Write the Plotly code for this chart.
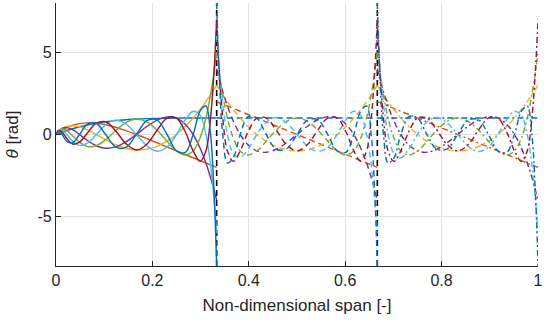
import plotly.graph_objects as go

# local node positions within each span segment (-1 = inboard end, 1 = outboard end)
xi = [-1, -0.99144, -0.96593, -0.92388, -0.86603, -0.79335, -0.70711, -0.60876, -0.5,
      -0.38268, -0.25882, -0.13053, 0, 0.13053, 0.25882, 0.38268, 0.5, 0.60876,
      0.70711, 0.79335, 0.86603, 0.92388, 0.96593, 0.99144, 1]

# segment boundaries (non-dimensional span)
interfaces = [0, 1 / 3, 2 / 3, 1]
y_range = [-8, 8]

# root segment (solid lines)
root_m0 = [0, 0.017, 0.066, 0.144, 0.242, 0.354, 0.469, 0.581, 0.684, 0.772, 0.843, 0.898, 0.938,
           0.964, 0.981, 0.991, 0.996, 0.999, 1, 1, 1, 1, 1, 1, 1]
root_m1 = [0, 0.034, 0.128, 0.266, 0.419, 0.561, 0.663, 0.708, 0.684, 0.590, 0.437, 0.234, 0,
           -0.252, -0.508, -0.758, -0.996, -1.216, -1.413, -1.587, -1.732, -1.848, -1.932, -1.983, -2]
root_m2 = [0, 0.050, 0.180, 0.348, 0.484, 0.537, 0.469, 0.280, 0, -0.320, -0.617, -0.837, -0.938,
           -0.898, -0.718, -0.410, 0, 0.481, 1.0, 1.518, 2.0, 2.414, 2.732, 2.932, 3]
root_m3 = [0, 0.065, 0.221, 0.376, 0.419, 0.291, 0, -0.366, -0.684, -0.835, -0.756, -0.453, 0,
           0.486, 0.880, 1.072, 0.996, 0.629, 0, -0.821, -1.732, -2.613, -3.346, -3.831, -4]
root_m4 = [0, 0.079, 0.246, 0.348, 0.242, -0.076, -0.469, -0.726, -0.684, -0.320, 0.226, 0.718, 0.938,
           0.771, 0.263, -0.410, -0.996, -1.248, -1.0, -0.214, 1.0, 2.414, 3.732, 4.664, 5]
root_m5 = [0, 0.092, 0.255, 0.266, 0, -0.411, -0.663, -0.518, 0, 0.591, 0.873, 0.640, 0,
           -0.687, -1.015, -0.758, 0, 0.890, 1.413, 1.162, 0, -1.848, -3.864, -5.417, -6]
root_m6 = [0, 0.103, 0.246, 0.144, -0.242, -0.577, -0.469, 0.096, 0.684, 0.772, 0.226, -0.551, -0.938,
           -0.592, 0.263, 0.991, 0.996, 0.165, -1.0, -1.629, -1.0, 1.0, 3.732, 6.078, 7]
root_m7 = [0, 0.113, 0.221, 0, -0.419, -0.504, 0, 0.634, 0.684, 0, -0.756, -0.784, 0,
           0.842, 0.880, 0, -0.996, -1.091, 0, 1.423, 1.732, 0, -3.346, -6.635, -8]

# middle and tip segments (dashed / dash-dot lines) show the same mode shapes
outer_m0 = [1, 1, 1, 1, 1, 1, 1, 1, 1, 1, 1, 1, 1, 1, 1, 1, 1, 1, 1, 1, 1, 1, 1, 1, 1]
outer_m1 = [2, 1.983, 1.932, 1.848, 1.732, 1.587, 1.414, 1.218, 1.0, 0.765, 0.518, 0.261, 0,
            -0.261, -0.518, -0.765, -1.0, -1.218, -1.414, -1.587, -1.732, -1.848, -1.932, -1.983, -2]
outer_m2 = [3, 2.932, 2.732, 2.414, 2.0, 1.518, 1.0, 0.482, 0, -0.414, -0.732, -0.932, -1,
            -0.932, -0.732, -0.414, 0, 0.482, 1.0, 1.518, 2.0, 2.414, 2.732, 2.932, 3]
outer_m3 = [4, 3.831, 3.346, 2.613, 1.732, 0.821, 0, -0.630, -1.0, -1.082, -0.897, -0.504, 0,
            0.504, 0.897, 1.082, 1.0, 0.630, 0, -0.821, -1.732, -2.613, -3.346, -3.831, -4]
outer_m4 = [5, 4.664, 3.732, 2.414, 1.0, -0.214, -1.0, -1.250, -1.0, -0.414, 0.268, 0.800, 1,
            0.800, 0.268, -0.414, -1.0, -1.250, -1.0, -0.214, 1.0, 2.414, 3.732, 4.664, 5]
outer_m5 = [6, 5.417, 3.864, 1.848, 0, -1.162, -1.414, -0.891, 0, 0.765, 1.035, 0.713, 0,
            -0.713, -1.035, -0.765, 0, 0.891, 1.414, 1.162, 0, -1.848, -3.864, -5.417, -6]
outer_m6 = [7, 6.078, 3.732, 1.0, -1.0, -1.629, -1.0, 0.165, 1.0, 1.0, 0.268, -0.614, -1,
            -0.614, 0.268, 1.0, 1.0, 0.165, -1.0, -1.629, -1.0, 1.0, 3.732, 6.078, 7]
outer_m7 = [8, 6.635, 3.346, 0, -1.732, -1.423, 0, 1.092, 1.0, 0, -0.897, -0.873, 0,
            0.873, 0.897, 0, -1.0, -1.092, 0, 1.423, 1.732, 0, -3.346, -6.635, -8]

root_modes = [root_m0, root_m1, root_m2, root_m3, root_m4, root_m5, root_m6, root_m7]
outer_modes = [outer_m0, outer_m1, outer_m2, outer_m3, outer_m4, outer_m5, outer_m6, outer_m7]

x_ticks = [0, 0.2, 0.4, 0.6, 0.8, 1]
x_ticktext = ["0", "0.2", "0.4", "0.6", "0.8", "1"]
y_ticks = [-5, 0, 5]
y_ticktext = ["-5", "0", "5"]

colors = ["#0072BD", "#D95319", "#EDB120", "#7E2F8E", "#77AC30", "#4DBEEE", "#A2142F", "#0072BD"]
seg_dash = ["solid", "6px,4px", "6px,3px,2px,3px"]

fig = go.Figure()

for xv in interfaces[1:3]:
    fig.add_trace(go.Scatter(x=[xv, xv], y=y_range, mode="lines",
                             line=dict(color="#000000", width=1.6, dash="6px,4px"),
                             hoverinfo="skip", showlegend=False))

for k in range(3):
    a, b = interfaces[k], interfaces[k + 1]
    xs = [a + (t + 1) / 2 * (b - a) for t in xi]
    modes = root_modes if k == 0 else outer_modes
    for n, ys in enumerate(modes):
        fig.add_trace(go.Scatter(x=xs, y=ys, mode="lines",
                                 line=dict(color=colors[n], width=1.45, dash=seg_dash[k],
                                           shape="spline", smoothing=1.0),
                                 hoverinfo="skip", showlegend=False))

axis_common = dict(showline=True, linecolor="#262626", linewidth=1.2, ticks="inside",
                   ticklen=5, tickwidth=1, tickcolor="#262626", showgrid=True,
                   gridcolor="#e3e3e3", gridwidth=1, zeroline=False, mirror=False,
                   tickfont=dict(family="Liberation Sans, Arial, sans-serif", size=16, color="#262626"))

fig.update_layout(
    width=546, height=325,
    margin=dict(l=56, r=5, t=3, b=59),
    paper_bgcolor="white", plot_bgcolor="white",
    font=dict(family="Liberation Sans, Arial, sans-serif", color="#262626"),
    xaxis=dict(range=[interfaces[0], interfaces[-1]], tickvals=x_ticks, ticktext=x_ticktext,
               title=dict(text="Non-dimensional span [-]", font=dict(size=17), standoff=10),
               **axis_common),
    yaxis=dict(range=y_range, tickvals=y_ticks, ticktext=y_ticktext,
               title=dict(text="<i>θ</i> [rad]", font=dict(size=17), standoff=14),
               **axis_common),
)

fig.write_html("out.html")
